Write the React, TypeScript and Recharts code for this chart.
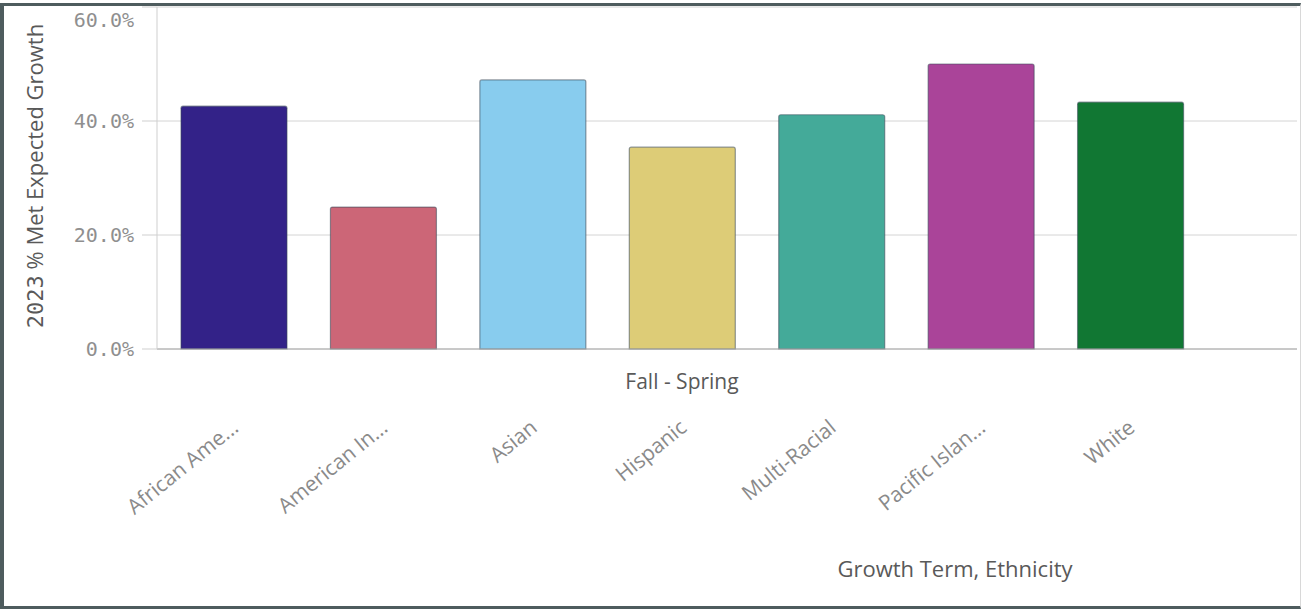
import React from "react";
import { BarChart, Bar, XAxis, YAxis, CartesianGrid, Cell, Label } from "recharts";

const categories = ["African Ame...", "American In...", "Asian", "Hispanic", "Multi-Racial", "Pacific Islan...", "White"];
const metExpected = [0.426, 0.249, 0.472, 0.354, 0.411, 0.5, 0.433];
const barColors = ["#332288", "#cc6677", "#88ccee", "#ddcc77", "#44aa99", "#aa4499", "#117733"];
const growthTerm = "Fall - Spring";
const yTicks = [0, 0.2, 0.4, 0.6];
const yAxisTitle = "% Met Expected Growth";
const yAxisYear = "2023";
const xAxisTitle = "Growth Term, Ethnicity";

const data = categories.map((name, i) => ({ name, term: growthTerm, value: metExpected[i] }));

const SANS = "'Open Sans', sans-serif";
const MONO = "'DejaVu Sans Mono', monospace";
const PAD_LEFT = 2;
const PAD_RIGHT = 92;

const YTick = (props: any) => {
  const { x, y, payload } = props;
  const v = payload.value as number;
  const shift = v >= 0.6 ? 13 : 0;
  return (
    <text x={x} y={y + shift} dy={7} textAnchor="end" fill="#8f8f8f" fontFamily={MONO} fontSize={20}>
      {(v * 100).toFixed(1) + "%"}
    </text>
  );
};

const EthTick = (props: any) => {
  const { x, y, payload } = props;
  const ax = x + 6;
  const ay = y + 81;
  return (
    <text x={ax} y={ay} textAnchor="end" fill="#8a8a8a" fontFamily={SANS} fontSize={21} transform={`rotate(-39, ${ax}, ${ay})`}>
      {payload.value}
    </text>
  );
};

export default function App() {
  return (
    <div style={{ position: "absolute", left: 0, top: 0, width: 1301, height: 609, background: "#fff", overflow: "hidden" }}>
      <BarChart
        width={1301}
        height={609}
        data={data}
        margin={{ top: 7, right: 4, bottom: 0, left: 0 }}
        barSize={106}
      >
        <CartesianGrid vertical={false} stroke="#d4d4d4" />
        <XAxis
          dataKey="name"
          height={260}
          padding={{ left: PAD_LEFT, right: PAD_RIGHT }}
          axisLine={{ stroke: "#a8a8a8" }}
          tickLine={false}
          tickSize={0}
          tickMargin={0}
          tick={<EthTick />}
          interval={0}
        >
          <Label
            content={(p: any) => {
              const vb = p.viewBox || { x: 157, y: 349, width: 1140 };
              const cx = vb.x + PAD_LEFT + (vb.width - PAD_LEFT - PAD_RIGHT) / 2;
              return (
                <text x={cx} y={vb.y + 40} textAnchor="middle" fill="#595959" fontFamily={SANS} fontSize={21}>
                  {data[0].term}
                </text>
              );
            }}
          />
          <Label
            content={() => (
              <text x={955} y={577} textAnchor="middle" fill="#595959" fontFamily={SANS} fontSize={22}>
                {xAxisTitle}
              </text>
            )}
          />
        </XAxis>
        <YAxis
          width={157}
          domain={[0, 0.6]}
          ticks={yTicks}
          interval={0}
          tickSize={15}
          tickMargin={8}
          axisLine={{ stroke: "#cfcfcf" }}
          tickLine={{ stroke: "#cfcfcf" }}
          tick={<YTick />}
        >
          <Label
            content={() => (
              <text
                x={43}
                y={176}
                textAnchor="middle"
                fill="#595959"
                fontSize={22}
                fontFamily={SANS}
                transform="rotate(-90, 43, 176)"
              >
                <tspan fontFamily={MONO}>{yAxisYear}</tspan>
                <tspan> {yAxisTitle}</tspan>
              </text>
            )}
          />
        </YAxis>
        <Bar dataKey="value" isAnimationActive={false} radius={[2, 2, 0, 0]}>
          {data.map((d, i) => (
            <Cell key={d.name} fill={barColors[i]} stroke="#3a4a5a" strokeOpacity={0.55} strokeWidth={1.2} />
          ))}
        </Bar>
      </BarChart>
      <div
        style={{
          position: "absolute",
          left: 0,
          top: 3,
          width: 1301,
          height: 606,
          boxSizing: "border-box",
          borderTop: "3px solid #4e5c5e",
          borderLeft: "4px solid #4e5c5e",
          borderBottom: "3px solid #4e5c5e",
          borderRight: "1px solid #d8d8d8",
          pointerEvents: "none",
        }}
      />
    </div>
  );
}
